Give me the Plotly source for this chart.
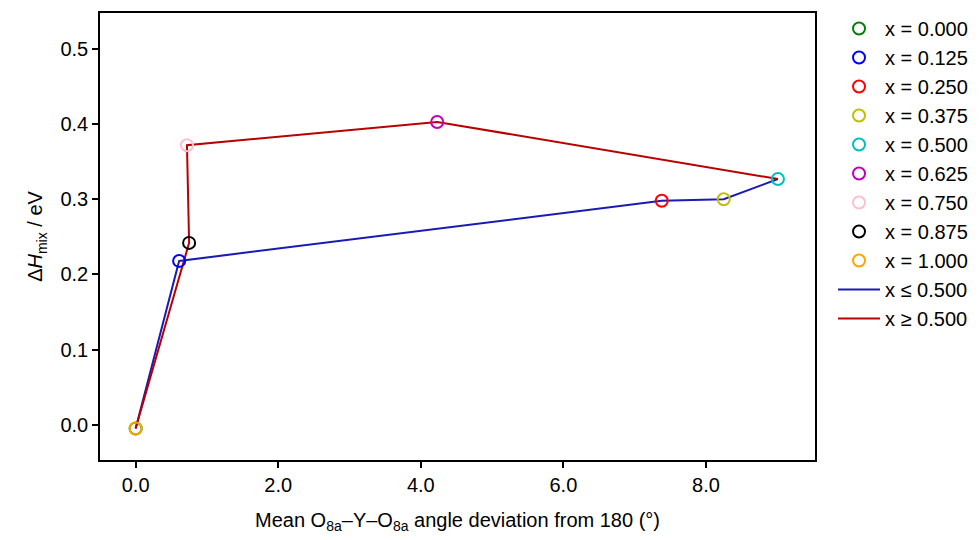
import plotly.graph_objects as go

# Composition x, mean O8a–Y–O8a angle deviation (deg) and mixing enthalpy (eV)
compositions = ["0.000", "0.125", "0.250", "0.375", "0.500", "0.625", "0.750", "0.875", "1.000"]
angle_dev = [0.00, 0.61, 7.38, 8.25, 9.01, 4.23, 0.72, 0.75, 0.00]
dh_mix = [-0.005, 0.218, 0.298, 0.300, 0.327, 0.403, 0.372, 0.242, -0.005]
marker_colors = ["#008000", "#0000ff", "#ff0000", "#bfbf00", "#00bfbf",
                 "#bf00bf", "#ffc0cb", "#000000", "#ffa500"]

low_color = "#1a1ab4"
high_color = "#b80000"

fig = go.Figure()

# x <= 0.500 branch (first five compositions), x >= 0.500 branch (last five)
fig.add_trace(go.Scatter(
    x=angle_dev[:5], y=dh_mix[:5], mode="lines",
    line=dict(color=low_color, width=2), name="x ≤ 0.500",
    legendrank=1010,
))
fig.add_trace(go.Scatter(
    x=angle_dev[4:], y=dh_mix[4:], mode="lines",
    line=dict(color=high_color, width=2), name="x ≥ 0.500",
    legendrank=1020,
))

for i, (c, a, h, col) in enumerate(zip(compositions, angle_dev, dh_mix, marker_colors)):
    fig.add_trace(go.Scatter(
        x=[a], y=[h], mode="markers",
        marker=dict(symbol="circle-open", size=12, color=col, line=dict(width=2)),
        name=f"x = {c}", legendrank=900 + i,
    ))

axis_font = dict(family="Liberation Sans, Arial, sans-serif", size=20, color="#000")

fig.update_layout(
    width=980, height=540,
    margin=dict(l=100, r=165, t=13, b=80, autoexpand=False),
    paper_bgcolor="white", plot_bgcolor="white",
    font=dict(family="Liberation Sans, Arial, sans-serif", size=20, color="#000"),
    legend=dict(
        x=1.0252, y=1.009, xanchor="left", yanchor="top",
        xref="paper", yref="paper", maxheight=450,
        font=dict(size=20), tracegroupgap=0, itemwidth=42,
        bgcolor="rgba(0,0,0,0)",
    ),
    showlegend=True,
)

fig.update_xaxes(
    range=[-0.5, 9.53], tickvals=[0, 2, 4, 6, 8], tickformat=".1f",
    showgrid=False, zeroline=False,
    showline=True, linecolor="#000", linewidth=1.5, mirror=True,
    ticks="outside", ticklen=6, tickwidth=1.5, tickcolor="#000",
    tickfont=axis_font,
    title=dict(text="Mean O<sub>8a</sub>–Y–O<sub>8a</sub> angle deviation from 180 (°)",
               font=axis_font, standoff=18),
)
fig.update_yaxes(
    range=[-0.047, 0.548], tickvals=[0, 0.1, 0.2, 0.3, 0.4, 0.5], tickformat=".1f",
    showgrid=False, zeroline=False,
    showline=True, linecolor="#000", linewidth=1.5, mirror=True,
    ticks="outside", ticklen=6, tickwidth=1.5, tickcolor="#000",
    tickfont=axis_font,
    title=dict(text="Δ<i>H</i><sub>mix</sub> / eV", font=axis_font, standoff=12),
)

fig.write_html("out.html")
